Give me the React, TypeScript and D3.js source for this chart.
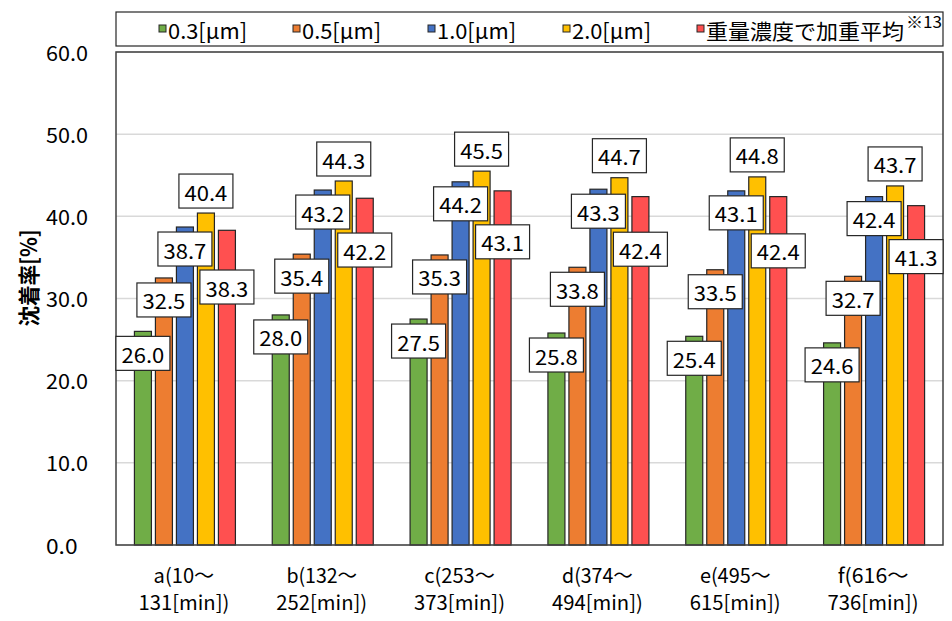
import React from "react";
import * as d3 from "d3";

const categoriesLine1 = ["a(10〜", "b(132〜", "c(253〜", "d(374〜", "e(495〜", "f(616〜"];
const categoriesLine2 = ["131[min])", "252[min])", "373[min])", "494[min])", "615[min])", "736[min])"];
const seriesNames = ["0.3[μm]", "0.5[μm]", "1.0[μm]", "2.0[μm]", "重量濃度で加重平均"];
const seriesColors = ["#70ad47", "#ed7d31", "#4472c4", "#ffc000", "#ff5050"];
const s03 = [26.0, 28.0, 27.5, 25.8, 25.4, 24.6];
const s05 = [32.5, 35.4, 35.3, 33.8, 33.5, 32.7];
const s10 = [38.7, 43.2, 44.2, 43.3, 43.1, 42.4];
const s20 = [40.4, 44.3, 45.5, 44.7, 44.8, 43.7];
const sWeighted = [38.3, 42.2, 43.1, 42.4, 42.4, 41.3];
const yTicks = [0, 10, 20, 30, 40, 50, 60];

const seriesValues = [s03, s05, s10, s20, sWeighted];

const FONT = "'Noto Sans CJK JP', 'Noto Sans', sans-serif";

// emulate half-width/full-width metrics
function units(s: string) {
  let u = 0;
  for (const ch of s) u += ch.charCodeAt(0) > 0x2000 && ch !== "μ" ? 2 : 1;
  return u;
}

function MText(props: any) {
  const { text, unit, ...rest } = props;
  return (
    <text {...rest} textLength={units(text) * unit} lengthAdjust="spacingAndGlyphs">
      {text}
    </text>
  );
}

export default function App() {
  const W = 952, H = 621;
  const left = 116, right = 943, top = 52, bottom = 545;

  const x0 = d3.scaleBand<number>().domain(d3.range(categoriesLine1.length)).range([left, right]).padding(0);
  const x1 = d3.scaleBand<number>().domain(d3.range(seriesNames.length)).range([0, x0.bandwidth()])
    .paddingInner(4 / 21).paddingOuter(0.877);
  const y = d3.scaleLinear().domain([0, 60]).range([bottom, top]);

  const boxW = 54, boxH = 34;

  const labels: any[] = [];
  categoriesLine1.forEach((_, ci) => {
    let blueBottom = 0;
    seriesValues.forEach((vals, si) => {
      const v = vals[ci];
      const cx = (x0(ci) as number) + (x1(si) as number) + x1.bandwidth() / 2;
      const yt = y(v);
      let boxTop: number;
      if (si === 3) boxTop = yt - 5 - boxH;
      else if (si === 4) boxTop = Math.max(yt + 5, blueBottom + 4);
      else boxTop = yt + 5;
      if (si === 2) blueBottom = boxTop + boxH;
      labels.push({ key: `${ci}-${si}`, cx, boxTop, text: v.toFixed(1) });
    });
  });

  const legendX = [159, 293, 428, 563, 697];

  return (
    <svg width={W} height={H} style={{ position: "absolute", left: 0, top: 0, background: "#fff" }} fontFamily={FONT}>
      <rect x={0} y={0} width={W} height={H} fill="#fff" />
      {/* gridlines */}
      {yTicks.map((t) => (
        <line key={t} x1={left} x2={right} y1={y(t)} y2={y(t)} stroke="#d9d9d9" strokeWidth={1.5} />
      ))}
      {/* y tick labels */}
      {yTicks.map((t) => (
        <MText key={t} text={t.toFixed(1)} unit={10.5} x={46} y={y(t)} fontSize={20} dominantBaseline="central" fill="#000" />
      ))}
      {/* bars */}
      {seriesValues.map((vals, si) =>
        vals.map((v, ci) => (
          <rect
            key={`${si}-${ci}`}
            x={(x0(ci) as number) + (x1(si) as number)}
            y={y(v)}
            width={x1.bandwidth()}
            height={bottom - y(v)}
            fill={seriesColors[si]}
            stroke="#262626"
            strokeWidth={1.2}
          />
        ))
      )}
      {/* frame */}
      <rect x={left} y={top} width={right - left} height={bottom - top} fill="none" stroke="#404040" strokeWidth={1.5} />
      {/* data labels */}
      {labels.map((l) => (
        <g key={l.key}>
          <rect x={l.cx - boxW / 2} y={l.boxTop} width={boxW} height={boxH} fill="#fff" stroke="#262626" strokeWidth={1.2} />
          <MText text={l.text} unit={10.7} x={l.cx} y={l.boxTop + boxH / 2 + 1} fontSize={20} textAnchor="middle" dominantBaseline="central" fill="#000" />
        </g>
      ))}
      {/* category labels */}
      {categoriesLine1.map((c, ci) => {
        const cx = (x0(ci) as number) + x0.bandwidth() / 2 - 1;
        return (
          <g key={c}>
            <MText text={c} unit={10.1} x={cx} y={574} fontSize={20} textAnchor="middle" dominantBaseline="central" />
            <MText text={categoriesLine2[ci]} unit={10.1} x={cx} y={601} fontSize={20} textAnchor="middle" dominantBaseline="central" />
          </g>
        );
      })}
      {/* y axis title */}
      <g transform="translate(27,278) rotate(-90)">
        <MText text="沈着率[%]" unit={10.8} x={0} y={0} fontSize={22} fontWeight="bold" textAnchor="middle" dominantBaseline="central" />
      </g>
      {/* legend */}
      <rect x={116} y={12} width={827} height={34} fill="#fff" stroke="#262626" strokeWidth={1.2} />
      {seriesNames.map((s, si) => (
        <g key={s}>
          <rect x={legendX[si]} y={25} width={7} height={7} fill={seriesColors[si]} stroke="#262626" strokeWidth={1} />
          <MText text={s} unit={si === 4 ? 11 : 11.3} x={legendX[si] + 9} y={29.5} fontSize={21} dominantBaseline="central" />
        </g>
      ))}
      <text x={906} y={28} fontSize={16} fontFamily={FONT} textLength={36} lengthAdjust="spacingAndGlyphs">※13</text>
    </svg>
  );
}
